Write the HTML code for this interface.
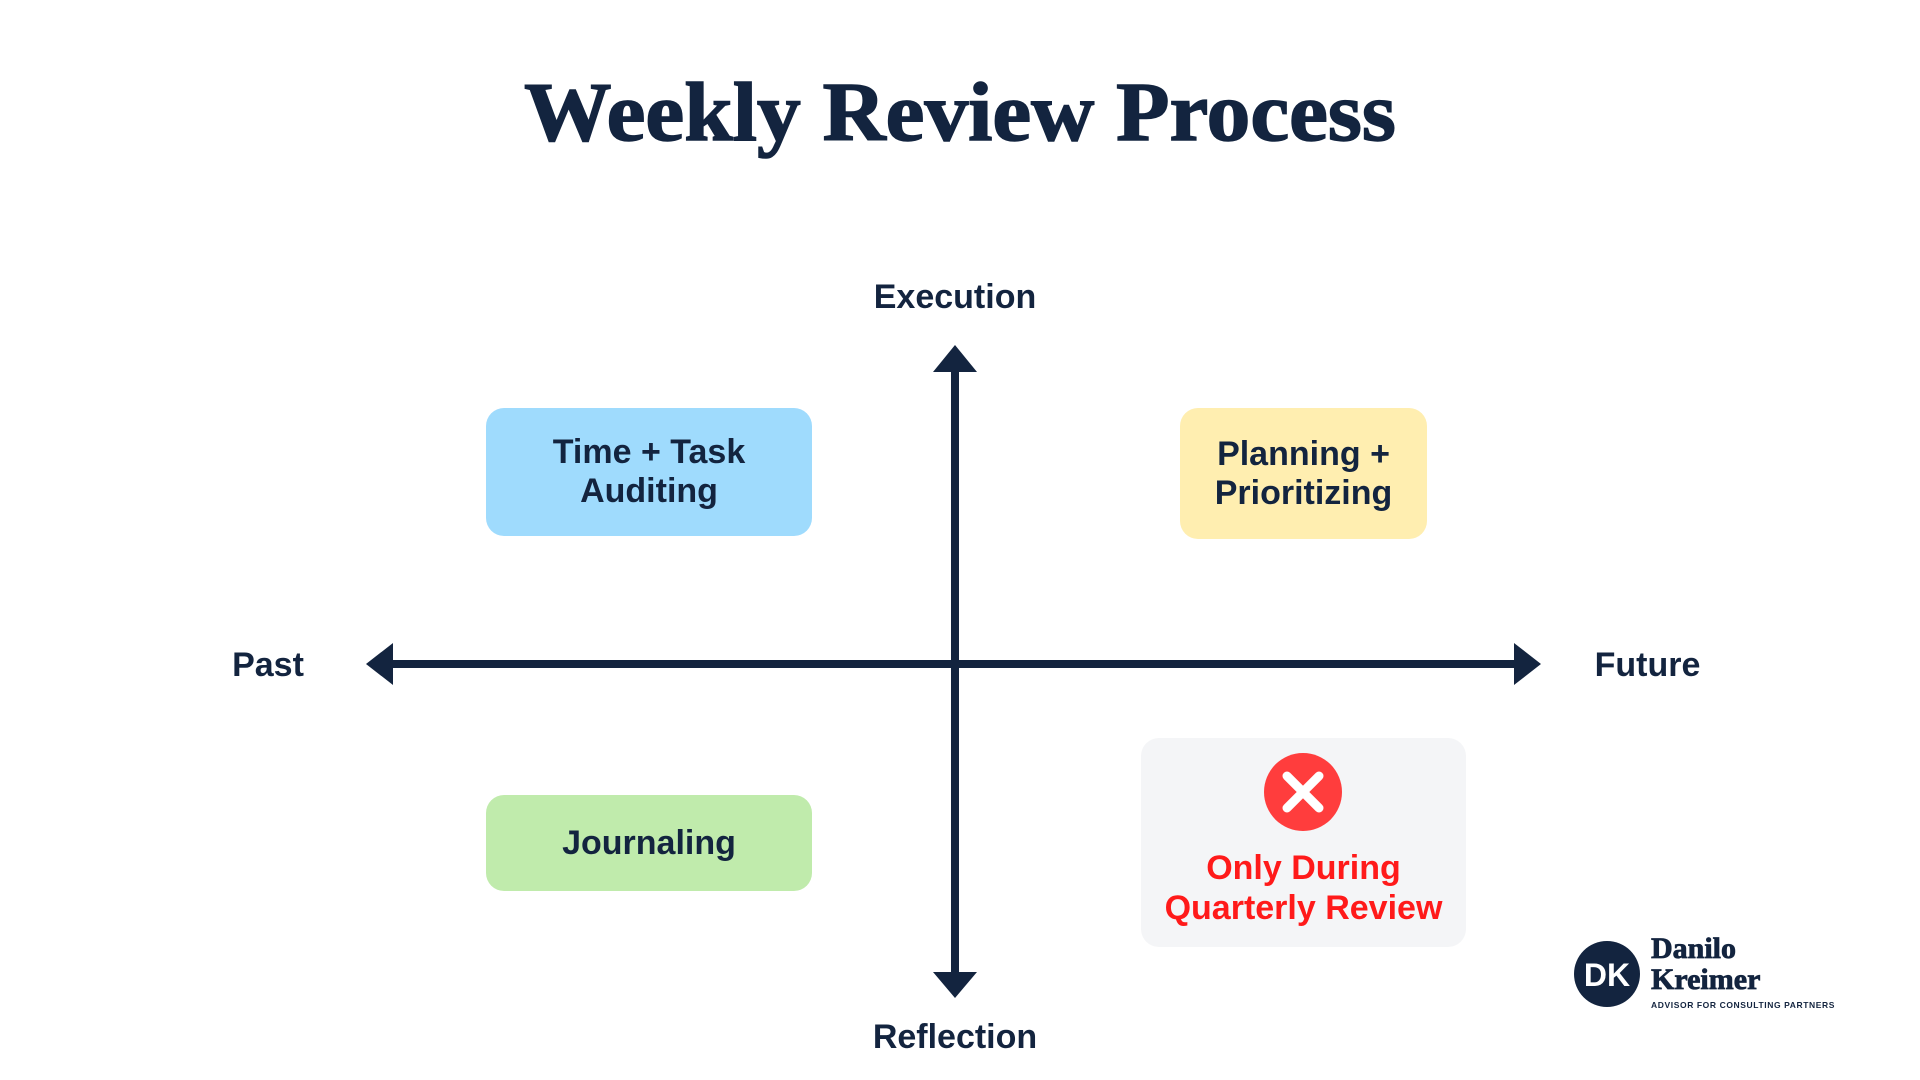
<!DOCTYPE html>
<html><head><style>
body{margin:0;width:1920px;height:1080px;background:#fff;position:relative;overflow:hidden;font-family:"Liberation Sans",sans-serif;color:#13243f}
.t{position:absolute;white-space:nowrap;text-align:center;font-weight:bold}
.box{position:absolute;border-radius:18px;display:flex;align-items:center;justify-content:center;text-align:center;font-weight:bold;font-size:34px;line-height:39px;color:#13243f}
</style></head><body>
<div class="t" style="left:0;width:1920px;top:64px;font-family:'Liberation Serif',serif;font-size:84px;letter-spacing:0px;transform:scaleX(1.04);-webkit-text-stroke:1.5px #13243f">Weekly Review Process</div>

<svg width="1920" height="1080" style="position:absolute;left:0;top:0">
<g fill="#13243f" stroke="#13243f">
<line x1="955" y1="360" x2="955" y2="985" stroke-width="8"/>
<line x1="380" y1="664" x2="1525" y2="664" stroke-width="8"/>
</g>
<g fill="#13243f">
<polygon points="955,345 933,372 977,372"/>
<polygon points="955,998 933,972 977,972"/>
<polygon points="366,664 393,643 393,685"/>
<polygon points="1541,664 1514,643 1514,685"/>
</g>
</svg>

<div class="t" style="left:855px;width:200px;top:278px;font-size:34px">Execution</div>
<div class="t" style="left:855px;width:200px;top:1018px;font-size:34px">Reflection</div>
<div class="t" style="left:223px;width:90px;top:646px;font-size:34px">Past</div>
<div class="t" style="left:1580px;width:135px;top:646px;font-size:34px">Future</div>

<div class="box" style="left:486px;top:408px;width:326px;height:128px;background:#9fdbfd">Time + Task<br>Auditing</div>
<div class="box" style="left:1180px;top:408px;width:247px;height:131px;background:#ffeeb0">Planning +<br>Prioritizing</div>
<div class="box" style="left:486px;top:795px;width:326px;height:96px;background:#c0ebac">Journaling</div>
<div class="box" style="left:1141px;top:738px;width:325px;height:209px;background:#f4f5f7;display:block"></div>
<svg width="80" height="80" style="position:absolute;left:1263px;top:752px">
<circle cx="40" cy="40" r="39" fill="#ff3d3d"/>
<path d="M24 24 L56 56 M56 24 L24 56" stroke="#fff" stroke-width="9" stroke-linecap="round"/>
</svg>
<div class="t" style="left:1141px;width:325px;top:848px;font-size:34px;line-height:40px;color:#ff1a1a">Only During<br>Quarterly Review</div>

<svg width="70" height="70" style="position:absolute;left:1573px;top:940px">
<circle cx="34" cy="34" r="33" fill="#13243f"/>
<text x="34" y="46" text-anchor="middle" font-family="Liberation Sans" font-weight="bold" font-size="32" fill="#fff">DK</text>
</svg>
<div style="position:absolute;left:1651px;top:933px;font-family:'Liberation Serif',serif;font-weight:bold;font-size:30px;line-height:31px;-webkit-text-stroke:0.8px #13243f">Danilo<br>Kreimer</div>
<div style="position:absolute;left:1651px;top:1000px;font-weight:bold;font-size:8.5px;letter-spacing:0.6px">ADVISOR FOR CONSULTING PARTNERS</div>
</body></html>
